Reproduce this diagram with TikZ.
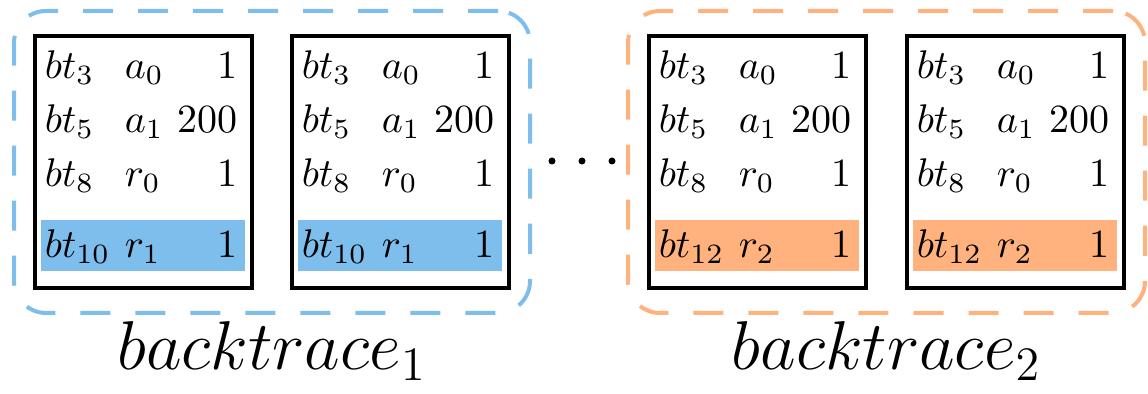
\documentclass[tikz,border=0pt]{standalone}
\usepackage{amsmath,amssymb}
\usepackage{tikz}
\usetikzlibrary{positioning,calc,fit}
\usepackage{xcolor}
\definecolor{trblue}{RGB}{125,190,236}
\definecolor{trorange}{RGB}{255,178,125}

\begin{document}
\begin{tikzpicture}[x=0.25pt,y=-0.25pt,
    frame/.style={rectangle,draw,line width=1pt,minimum width=54.25pt,minimum height=63pt,inner sep=0pt},
    hl/.style={rectangle,inner sep=0pt,minimum width=51pt,minimum height=12.75pt},
    cell/.style={inner sep=0pt,font=\fontsize{9.8}{12}\selectfont},
    group/.style={rectangle,rounded corners=8pt,draw,line width=1pt,dash pattern=on 7.5pt off 6.25pt,inner xsep=4.75pt,inner ysep=5.75pt},
    lbl/.style={inner sep=0pt,font=\fontsize{18.6}{22}\selectfont}]

\useasboundingbox (0,0) rectangle (1148,394);

% four traces
\foreach \b/\xl/\col/\n/\r in {1/35/trblue/10/1, 2/292/trblue/10/1, 3/649/trorange/12/2, 4/907/trorange/12/2} {
  \node[hl,fill=\col] (hl\b) at (\xl+108,245.5) {};
  \node[frame] (box\b) at (\xl+108.5,162) {};
  \foreach \k/\s/\v/\y in {3/a_0/1/79, 5/a_1/200/133, 8/r_0/1/187} {
    \node[cell,anchor=base west] (bt\b-\k) at (\xl+9,\y) {$bt_{\k}$};
    \node[cell,anchor=base west] (op\b-\k) at (\xl+89,\y) {$\s$};
    \node[cell,anchor=base east] (nb\b-\k) at (\xl+203,\y) {$\v$};
  }
  \node[cell,anchor=base west] (bt\b-last) at (\xl+9,258) {$bt_{\n}$};
  \node[cell,anchor=base west] (op\b-last) at (\xl+89,258) {$r_{\r}$};
  \node[cell,anchor=base east] (nb\b-last) at (\xl+203,258) {$1$};
}

% groups
\node[group,draw=trblue,fit=(box1)(box2)] (grpA) {};
\node[group,draw=trorange,fit=(box3)(box4)] (grpB) {};

\foreach \i/\x in {1/552, 2/582, 3/612}
  \node[circle,fill,inner sep=0pt,minimum size=1.75pt] (dot\i) at (\x,161) {};

\node[lbl,below=1.5pt of grpA] (labA) {$backtrace_1$};
\node[lbl,below=1.5pt of grpB] (labB) {$backtrace_2$};

\end{tikzpicture}
\end{document}
